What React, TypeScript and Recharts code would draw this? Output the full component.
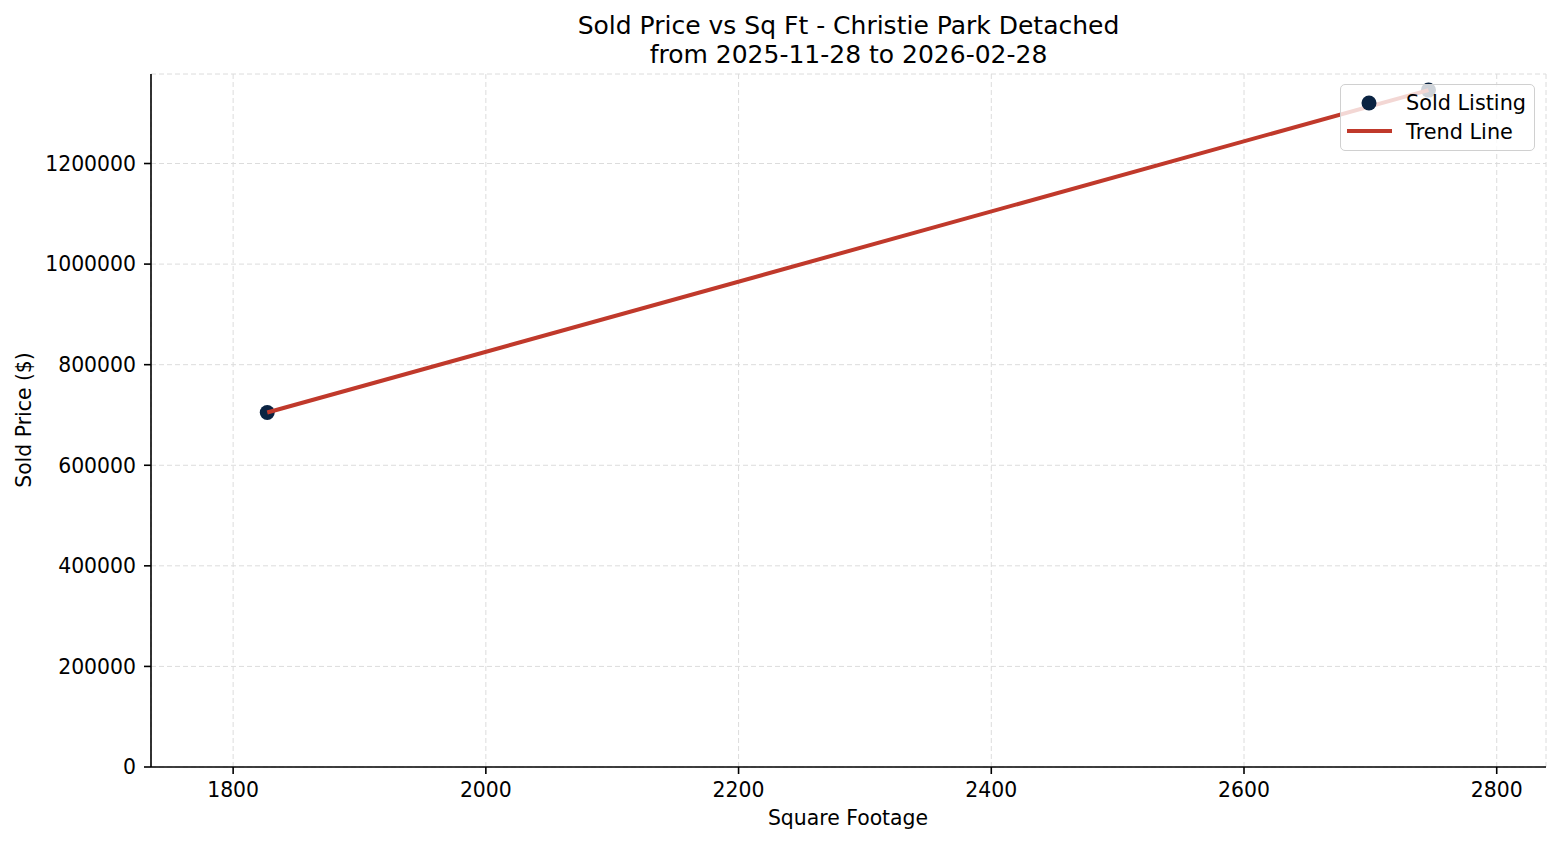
import React from "react";
import {
  ScatterChart,
  Scatter,
  XAxis,
  YAxis,
  CartesianGrid,
  Legend,
} from "recharts";

// sold listings (sq ft, sold price)
const sqft = [1827, 2746];
const soldPrice = [705000, 1346000];

// trend line end points
const trendSqft = [1827, 2746];
const trendPrice = [705000, 1346000];

const xTicks = [1800, 2000, 2200, 2400, 2600, 2800];
const yTicks = [0, 200000, 400000, 600000, 800000, 1000000, 1200000];

const FONT = "'DejaVu Sans', Verdana, sans-serif";
const NAVY = "#0a2342";
const RED = "#c0392b";

const listings = sqft.map((x, i) => ({ x, y: soldPrice[i] }));
const trend = trendSqft.map((x, i) => ({ x, y: trendPrice[i] }));

const Dot = (props: any) => (
  <circle cx={props.cx} cy={props.cy} r={7.5} fill={NAVY} />
);

const LegendBox = () => (
  <div
    style={{
      width: 195,
      height: 67,
      boxSizing: "border-box",
      border: "1.5px solid #d0d0d0",
      borderRadius: 5,
      background: "rgba(255,255,255,0.8)",
    }}
  >
    <svg width={192} height={64} style={{ display: "block" }}>
      <circle cx={28} cy={18} r={7.5} fill={NAVY} />
      <text x={65} y={25} fontSize={20.8} fontFamily={FONT} fill="#000">
        Sold Listing
      </text>
      <line x1={6} y1={46} x2={51} y2={46} stroke={RED} strokeWidth={4} />
      <text x={65} y={54} fontSize={20.8} fontFamily={FONT} fill="#000">
        Trend Line
      </text>
    </svg>
  </div>
);

export default function App() {
  return (
    <div
      style={{
        position: "absolute",
        left: 0,
        top: 0,
        width: 1560,
        height: 845,
        background: "#fff",
        fontFamily: FONT,
      }}
    >
      {/* Title */}
      <div
        style={{
          position: "absolute",
          left: 0,
          top: 11,
          width: 1697,
          textAlign: "center",
          fontSize: 25,
          lineHeight: "29px",
          color: "#000",
        }}
      >
        Sold Price vs Sq Ft - Christie Park Detached
        <br />
        from 2025-11-28 to 2026-02-28
      </div>

      <ScatterChart
        width={1560}
        height={845}
        margin={{ top: 74, right: 14, bottom: 0, left: 0 }}
        style={{ fontFamily: FONT }}
      >
        <CartesianGrid stroke="#dcdcdc" strokeDasharray="5 3" strokeWidth={1} />
        <XAxis
          type="number"
          dataKey="x"
          domain={[1735, 2839]}
          ticks={xTicks}
          interval={0}
          allowDataOverflow
          height={78}
          tickSize={7}
          tickMargin={9}
          axisLine={{ stroke: "#000", strokeWidth: 1.6 }}
          tickLine={{ stroke: "#000", strokeWidth: 1.6 }}
          tick={{ fill: "#000", fontSize: 20.4, fontFamily: FONT }}
          label={{
            content: () => (
              <text
                x={848}
                y={825}
                textAnchor="middle"
                fontSize={20.4}
                fontFamily={FONT}
                fill="#000"
              >
                Square Footage
              </text>
            ),
          }}
        />
        <YAxis
          type="number"
          dataKey="y"
          domain={[0, 1378000]}
          ticks={yTicks}
          interval={0}
          allowDataOverflow
          width={151}
          tickSize={7}
          tickMargin={8}
          axisLine={{ stroke: "#000", strokeWidth: 1.6 }}
          tickLine={{ stroke: "#000", strokeWidth: 1.6 }}
          tick={{ fill: "#000", fontSize: 20.4, fontFamily: FONT }}
          label={{
            content: () => (
              <text
                x={31}
                y={420}
                transform="rotate(-90 31 420)"
                textAnchor="middle"
                fontSize={20.4}
                fontFamily={FONT}
                fill="#000"
              >
                Sold Price ($)
              </text>
            ),
          }}
        />
        <Scatter
          name="Sold Listing"
          data={listings}
          shape={Dot}
          isAnimationActive={false}
        />
        <Scatter
          name="Trend Line"
          data={trend}
          line={{ stroke: RED, strokeWidth: 4 }}
          shape={() => <g />}
          isAnimationActive={false}
        />
        <Legend
          layout="horizontal"
          verticalAlign="middle"
          align="center"
          content={() => <LegendBox />}
          wrapperStyle={{
            position: "absolute",
            left: 1340,
            top: 84,
            width: 195,
            height: 67,
          }}
        />
      </ScatterChart>
    </div>
  );
}
